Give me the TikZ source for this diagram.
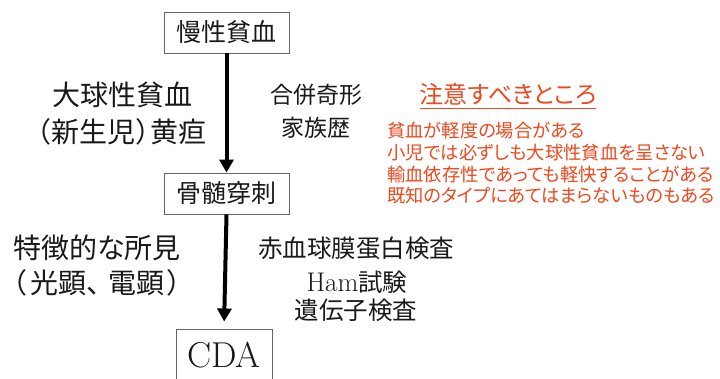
\documentclass[tikz,border=0pt]{standalone}
\usepackage{fontspec}
\newfontfamily\jp[RawFeature=+palt]{Noto Sans CJK JP}
\usetikzlibrary{arrows.meta}
\definecolor{warnred}{RGB}{238,72,30}
\definecolor{ink}{RGB}{25,25,25}
\tikzset{
  stepbox/.style={draw=gray!80!black, line width=0.9pt, fill=white, inner sep=0pt, minimum width=125pt, minimum height=41pt, text=ink},
  flow/.style={line width=4pt, -{Triangle[width=14pt,length=13pt]}},
  lbl/.style={inner sep=0pt, text=ink, align=center},
  note/.style={inner sep=0pt, anchor=west, text=warnred, font=\jp\fontsize{18.3}{20}\selectfont}
}
\begin{document}
\begin{tikzpicture}[x=1pt,y=-1pt]
\clip (0,0) rectangle (720,379);
\fill[white] (0,0) rectangle (720,379);
% boxes
\node[stepbox, font=\jp\fontsize{25}{28}\selectfont] (b1) at (226.5,32.5) {慢性貧血};
\node[stepbox, font=\jp\fontsize{25}{28}\selectfont] (b2) at (226.5,193.5) {骨髄穿刺};
\node[stepbox, minimum width=96pt, minimum height=64pt, font=\fontsize{36}{40}\selectfont] (b3) at (224,361) {};
\node[lbl, font=\fontsize{36}{40}\selectfont] (cda) at (224,355) {CDA};
% arrows
\draw[flow] (b1.south) -- (b2.north);
\draw[flow, shorten >=7pt] (b2.south) -- (b3.north);
% left labels
\node[lbl, font=\jp\fontsize{28}{30}\selectfont] (l1) at (122,95) {大球性貧血};
\node[lbl, font=\jp\fontsize{28}{30}\selectfont] (l2) at (121,132) {（\hspace{2pt}新生児）黄疸};
\node[lbl, font=\jp\fontsize{28}{30}\selectfont] (l3) at (97,248) {特徴的な所見};
\node[lbl, font=\jp\fontsize{28}{30}\selectfont] (l4) at (97,283) {（\hspace{4pt}光顕、\hspace{8pt}電顕\hspace{3pt}）};
% right labels
\node[lbl, font=\jp\fontsize{23}{26}\selectfont] (r1) at (316,95) {合併奇形};
\node[lbl, font=\jp\fontsize{23}{26}\selectfont] (r2) at (316,128) {家族歴};
\node[lbl, font=\jp\fontsize{24.5}{27}\selectfont] (r3) at (356,248) {赤血球膜蛋白検査};
\node[lbl, font=\fontsize{27}{29}\selectfont] (r4) at (357,282) {Ham{\jp\fontsize{24.5}{27}\selectfont 試験}};
\node[lbl, font=\jp\fontsize{24.5}{27}\selectfont] (r5) at (356,310) {遺伝子検査};
% caution
\node[inner sep=0pt, text=warnred, font=\jp\fontsize{24}{26}\selectfont] (t) at (508,94) {注意すべきところ};
\draw[warnred, line width=1.2pt] (t.south west) ++(0,3) coordinate (ua) -- (ua -| t.south east) coordinate (ub);
\node[note] (n1) at (387,131) {貧血が軽度の場合がある};
\node[note] (n2) at (387,153) {小児では必ずしも大球性貧血を呈さない};
\node[note] (n3) at (387,174.5) {輸血依存性であっても軽快することがある};
\node[note] (n4) at (387,196) {既知のタイプにあてはまらないものもある};
\end{tikzpicture}
\end{document}
